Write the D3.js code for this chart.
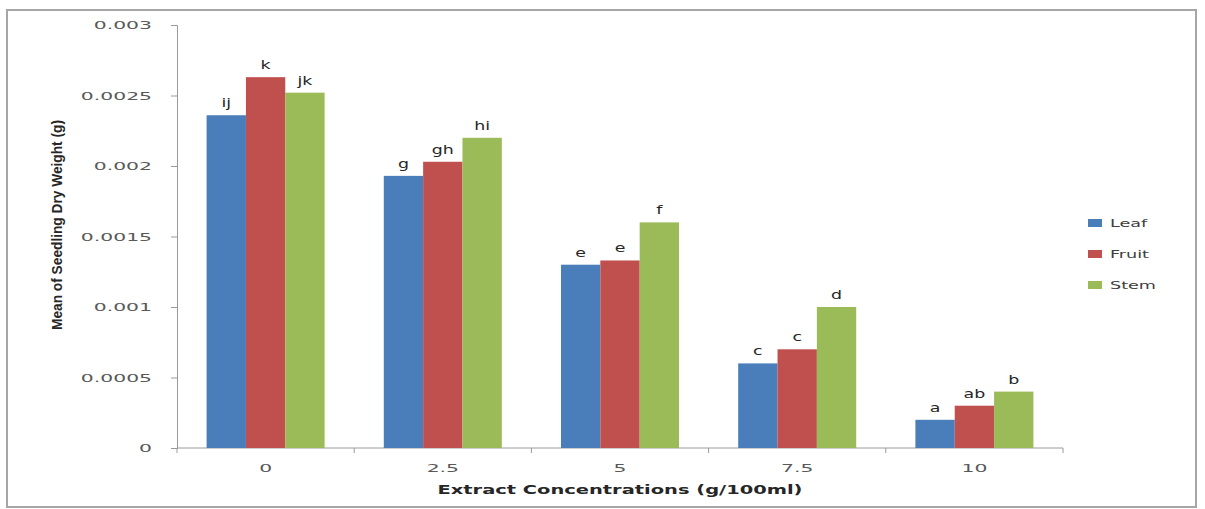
<!DOCTYPE html>
<html>
<head>
<meta charset="utf-8">
<script src="https://cdn.jsdelivr.net/npm/d3@7"></script>
<style>
  html, body { margin: 0; padding: 0; background: #fff; }
  svg { display: block; }
</style>
</head>
<body>
<svg id="chart" width="1205" height="509"></svg>
<script>
// Extract concentrations (g/100ml) on the x axis
const categories = ["0", "2.5", "5", "7.5", "10"];
const seriesNames = ["Leaf", "Fruit", "Stem"];
const seriesColors = ["#4a7ebb", "#c0504d", "#9bbb59"];

// Mean seedling dry weight (g) per plant part
const leafValues  = [0.00236, 0.00193, 0.00130, 0.00060, 0.00020];
const fruitValues = [0.00263, 0.00203, 0.00133, 0.00070, 0.00030];
const stemValues  = [0.00252, 0.00220, 0.00160, 0.00100, 0.00040];

// Letters of the mean-separation test
const leafLetters  = ["ij", "g", "e", "c", "a"];
const fruitLetters = ["k", "gh", "e", "c", "ab"];
const stemLetters  = ["jk", "hi", "f", "d", "b"];

const yTicks = [0, 0.0005, 0.001, 0.0015, 0.002, 0.0025, 0.003];
const yTickLabels = ["0", "0.0005", "0.001", "0.0015", "0.002", "0.0025", "0.003"];

const xTitle = "Extract Concentrations (g/100ml)";
const yTitle = "Mean of Seedling Dry Weight (g)";

const seriesValues = [leafValues, fruitValues, stemValues];
const seriesLetters = [leafLetters, fruitLetters, stemLetters];

const svg = d3.select("#chart");
const plot = { left: 177, right: 1063, top: 25, bottom: 448 };
const stretchX = 1.7;

// Outer chart frame
svg.append("rect")
  .attr("x", 7).attr("y", 10).attr("width", 1189).attr("height", 497)
  .attr("fill", "#fff").attr("stroke", "#a6a6a6").attr("stroke-width", 2);

const y = d3.scaleLinear().domain([0, 0.003]).range([plot.bottom, plot.top]);
const x0 = d3.scaleBand().domain(categories).range([plot.left, plot.right]).padding(0);
const groupPad = x0.bandwidth() * 0.167;
const x1 = d3.scaleBand().domain(seriesNames)
  .range([groupPad, x0.bandwidth() - groupPad]).padding(0);

// Horizontally widened text, anchored at (px, py)
function wideText(g, px, py, str, opts) {
  const t = g.append("text")
    .attr("transform", `translate(${px},${py}) scale(${opts.sx || stretchX},1)`)
    .attr("text-anchor", opts.anchor || "middle")
    .attr("font-family", opts.family || "'DejaVu Sans', Verdana, sans-serif")
    .attr("font-size", opts.size || 11)
    .attr("font-weight", opts.weight || "normal")
    .attr("fill", opts.fill || "#595959")
    .text(str);
  return t;
}

// Y axis
const yAxis = d3.axisLeft(y).tickValues(yTicks).tickSize(6).tickFormat("");
const yg = svg.append("g").attr("transform", `translate(${plot.left},0)`).call(yAxis);
yg.selectAll("path, line").attr("stroke", "#9a9a9a");
yTicks.forEach((v, i) => {
  wideText(svg, 152, y(v) + 4, yTickLabels[i], { anchor: "end", sx: 1.85 });
});

// X axis with tick marks at category boundaries
svg.append("line")
  .attr("x1", plot.left).attr("x2", plot.right)
  .attr("y1", plot.bottom).attr("y2", plot.bottom)
  .attr("stroke", "#9a9a9a");
const boundaries = categories.map(c => x0(c)).concat([x0(categories[categories.length - 1]) + x0.bandwidth()]);
svg.selectAll(".xtick").data(boundaries).join("line")
  .attr("class", "xtick")
  .attr("x1", d => d).attr("x2", d => d)
  .attr("y1", plot.bottom).attr("y2", plot.bottom + 5)
  .attr("stroke", "#9a9a9a");
categories.forEach(c => {
  wideText(svg, x0(c) + x0.bandwidth() / 2, 472, c, { sx: 1.85 });
});

// Bars
const groups = svg.selectAll(".grp").data(categories).join("g")
  .attr("class", "grp")
  .attr("transform", c => `translate(${x0(c)},0)`);

seriesNames.forEach((s, si) => {
  groups.append("rect")
    .attr("x", x1(s))
    .attr("width", x1.bandwidth())
    .attr("y", (c, ci) => y(seriesValues[si][ci]))
    .attr("height", (c, ci) => plot.bottom - y(seriesValues[si][ci]))
    .attr("fill", seriesColors[si]);
});

// Significance letters above bars
categories.forEach((c, ci) => {
  seriesNames.forEach((s, si) => {
    const cx = x0(c) + x1(s) + x1.bandwidth() / 2;
    const cy = y(seriesValues[si][ci]) - 8;
    wideText(svg, cx, cy, seriesLetters[si][ci], { sx: 1.45, size: 12, fill: "#262626" });
  });
});

// Legend
const legendY = [223, 254, 285];
seriesNames.forEach((s, i) => {
  svg.append("rect")
    .attr("x", 1088).attr("y", legendY[i] - 4)
    .attr("width", 14).attr("height", 8)
    .attr("fill", seriesColors[i]);
  wideText(svg, 1110, legendY[i] + 4, s, { anchor: "start", sx: 1.6, fill: "#404040" });
});

// Axis titles
svg.append("text")
  .attr("x", 620 - 182.5).attr("y", 494)
  .attr("textLength", 365).attr("lengthAdjust", "spacingAndGlyphs")
  .attr("font-family", "'DejaVu Sans', Verdana, sans-serif")
  .attr("font-size", 13).attr("font-weight", "bold")
  .attr("fill", "#262626")
  .text(xTitle);

svg.append("text")
  .attr("transform", "translate(62,225) rotate(-90)")
  .attr("x", -105).attr("y", 0)
  .attr("textLength", 210).attr("lengthAdjust", "spacingAndGlyphs")
  .attr("font-family", "'Liberation Sans Narrow', 'Liberation Sans', Arial, sans-serif")
  .attr("font-size", 14).attr("font-weight", "bold")
  .attr("fill", "#262626")
  .text(yTitle);
</script>
</body>
</html>
